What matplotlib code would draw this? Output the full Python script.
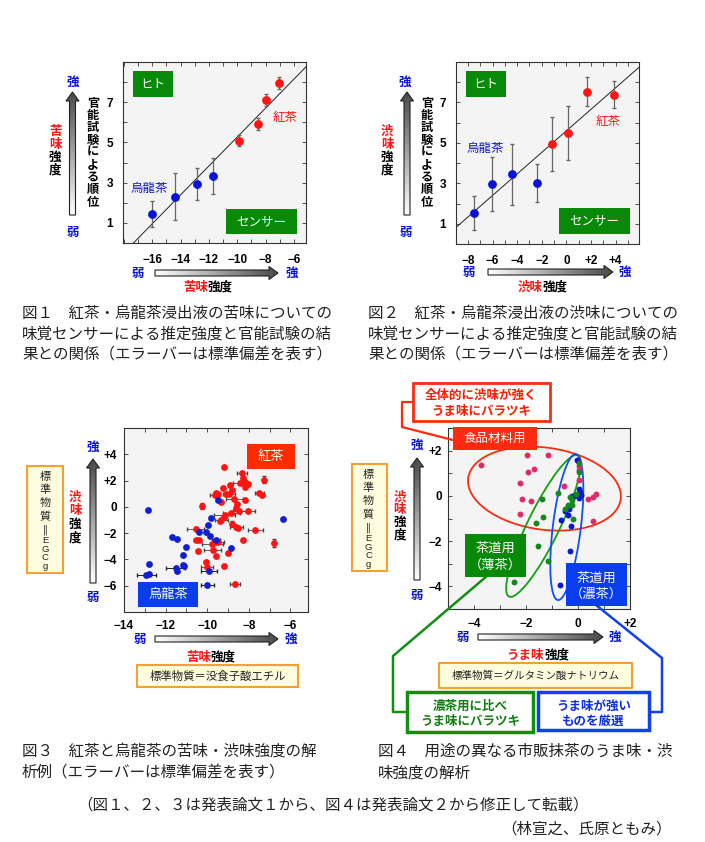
import numpy as np
import matplotlib
matplotlib.use('Agg')
import matplotlib.pyplot as plt
import matplotlib.transforms as mtransforms
from matplotlib.patches import Rectangle, Polygon, Ellipse
from matplotlib.colors import LinearSegmentedColormap

# ---- data: Fig.1 bitterness (sensor vs sensory rank)
bit_oolong_x = [-16.0, -14.42, -12.85, -11.72]
bit_oolong_y = [1.44, 2.31, 2.94, 3.33]
bit_oolong_sd = [0.66, 1.15, 0.78, 0.88]
bit_black_x = [-9.88, -8.52, -8.0, -7.08]
bit_black_y = [5.09, 5.93, 7.10, 7.95]
bit_black_sd = [0.28, 0.30, 0.31, 0.31]

# ---- Fig.2 astringency
ast_oolong_x = [-7.51, -6.03, -4.41, -2.35]
ast_oolong_y = [1.54, 2.95, 3.45, 3.02]
ast_oolong_sd = [0.83, 1.33, 1.50, 0.95]
ast_black_x = [-1.14, 0.11, 1.65, 3.86]
ast_black_y = [4.96, 5.49, 7.54, 7.39]
ast_black_sd = [1.34, 1.32, 0.70, 0.65]

# ---- Fig.3 bitterness vs astringency
f3_black_x = [-9.21, -8.33, -8.28, -7.25, -8.44, -8.16, -8.20, -8.04, -8.92, -7.49,
              -7.37, -9.24, -8.82, -9.56, -9.64, -9.48, -9.08, -8.96, -9.32, -8.69,
              -8.17, -8.57, -10.27, -8.60, -8.84, -9.16, -9.21, -8.45, -8.05, -9.32,
              -9.37, -8.80, -8.60, -8.52, -7.68, -10.56, -10.53, -10.41, -9.76, -9.64,
              -9.47, -8.28, -6.77, -10.46, -9.73, -8.98, -9.57, -10.08, -10.00, -9.21,
              -8.66]
f3_black_y = [3.03, 2.60, 2.17, 2.07, 1.84, 1.89, 1.51, 1.71, 1.63, 1.07,
              0.90, 1.43, 1.30, 1.07, 0.87, 0.95, 1.00, 0.95, 0.36, 0.56,
              0.54, 0.18, 0.08, -0.07, -0.48, -0.61, -0.78, -0.33, -0.33, -0.99,
              -1.11, -1.29, -1.50, -1.60, -1.75, -1.70, -2.51, -2.53, -2.82, -2.64,
              -2.69, -2.51, -2.77, -3.38, -3.28, -3.48, -3.71, -4.19, -4.60, -4.47,
              -5.85]
f3_black_xerr = [0, 0.25, 0, 0, 0.3, 0, 0, 0, 0, 0.2,
                 0, 0, 0, 0, 0.2, 0, 0, 0.3, 0, 0.4,
                 0, 0, 0, 0, 0.4, 0.5, 0, 0.3, 0.35, 0.3,
                 0, 0, 0.3, 0, 0.35, 0.4, 0, 0, 0.5, 0,
                 0.3, 0, 0, 0, 0.4, 0, 0, 0, 0.3, 0,
                 0.25]
f3_black_yerr = [0, 0, 0, 0.25, 0, 0, 0, 0, 0, 0,
                 0, 0, 0, 0, 0, 0, 0, 0, 0, 0,
                 0, 0, 0.25, 0, 0, 0, 0, 0, 0, 0,
                 0, 0.2, 0, 0, 0, 0, 0, 0, 0, 0,
                 0, 0, 0.3, 0, 0, 0, 0, 0, 0, 0,
                 0]
f3_oolong_x = [-12.85, -6.34, -11.69, -11.45, -12.81, -12.93, -12.80, -11.00, -11.17, -11.52,
               -11.45, -11.17, -11.11, -9.99, -9.92, -9.80, -9.96, -10.08, -10.37, -9.85,
               -9.56, -8.86, -9.50]
f3_oolong_y = [-0.27, -0.96, -2.31, -2.41, -4.37, -5.16, -5.08, -3.07, -3.63, -4.65,
               -4.86, -4.40, -4.52, -5.95, -4.91, -0.86, -1.39, -1.90, -1.95, -2.23,
               -2.51, -3.10, 0.49]
f3_oolong_xerr = [0, 0, 0, 0, 0, 0.45, 0, 0, 0, 0.45,
                  0, 0, 0, 0.3, 0.4, 0, 0, 0, 0, 0,
                  0.2, 0, 0]

# ---- Fig.4 umami vs astringency of matcha
food_x = [-3.72, -1.97, -1.17, -1.71, -1.92, -2.23, -2.15, -1.81, -2.23, 0.03,
          0.04, 0.05, -0.53, 0.40, 0.57, 0.71, 0.57, 0.0]
food_y = [1.35, 1.82, 1.82, 1.20, 1.05, 0.57, -0.12, -0.22, -0.78, 1.30,
          1.13, 0.72, 0.44, -0.16, -0.05, 0.07, -1.10, 1.52]
usucha_x = [-1.39, -0.78, -1.36, -1.61, -0.22, -0.37, -0.50, -0.25, -0.21, -0.08,
            -0.30, -1.52, -1.14, -2.48, 0.04, 0.02]
usucha_y = [-0.16, 0.14, -0.95, -1.22, -0.18, -0.41, -0.60, -0.40, -1.00, 0.10,
            -0.05, -2.20, -2.90, -3.82, 1.05, 1.45]
koicha_x = [-0.04, 0.05, 0.09, -0.23, 0.03, -0.33, -0.50, -0.40, -0.66, -0.27,
            -0.32, -0.69, -0.15, 0.10]
koicha_y = [1.57, 0.32, 0.17, -0.02, -0.08, -0.60, -0.66, -0.85, -1.07, -1.33,
            -2.43, -3.92, 0.00, 0.05]

RED = '#ff1414'
BLUE = '#0a14d8'
GREEN = '#088a08'
JP = ['Noto Sans CJK JP', 'DejaVu Sans']

W, H = 705, 842
fig = plt.figure(figsize=(W / 100, H / 100), dpi=100)


def add_ax(x0, y0, x1, y1):
    ax = fig.add_axes([x0 / W, 1 - y1 / H, (x1 - x0) / W, (y1 - y0) / H])
    ax.set_facecolor('#f4f4f4')
    for s in ax.spines.values():
        s.set_color('#333333')
        s.set_linewidth(0.8)
    ax.tick_params(which='both', direction='in', top=True, right=True,
                   length=3, width=0.6, color='#333333')
    return ax


def lab(v, plus):
    if v == 0:
        return '0'
    if v < 0:
        return '\u2212%d' % -v
    return ('+%d' if plus else '%d') % v


def set_ticks(ax, xmaj, xmin_, ymaj, ymin_, xplus, yplus, xpad, ypad, size=8.5):
    ax.set_xticks(xmaj, [lab(v, xplus) for v in xmaj])
    ax.set_xticks(xmin_, minor=True)
    ax.set_yticks(ymaj, [lab(v, yplus) for v in ymaj])
    ax.set_yticks(ymin_, minor=True)
    for t in ax.get_xticklabels() + ax.get_yticklabels():
        t.set_fontfamily('Liberation Sans')
        t.set_fontweight('bold')
        t.set_fontsize(size)
    ax.tick_params(axis='x', which='major', pad=xpad)
    ax.tick_params(axis='y', which='major', pad=ypad)


def fit_line(ax, xs, ys, xlim):
    k, b = np.polyfit(xs, ys, 1)
    xx = np.array(xlim)
    ax.plot(xx, k * xx + b, color='#222222', lw=0.7, zorder=1)


# ---------------- Fig.1
ax1 = add_ax(123, 62, 306, 243)
fit_line(ax1, bit_oolong_x + bit_black_x, bit_oolong_y + bit_black_y, (-18.1, -5.1))
ax1.errorbar(bit_oolong_x, bit_oolong_y, yerr=bit_oolong_sd, fmt='o', color=BLUE,
             ms=5.3, ecolor='#666666', elinewidth=0.9, capsize=1.5, zorder=3)
ax1.errorbar(bit_black_x, bit_black_y, yerr=bit_black_sd, fmt='o', color=RED,
             ms=5.3, ecolor='#666666', elinewidth=0.9, capsize=1.5, zorder=3)
ax1.set_xlim(-18.07, -5.15)
ax1.set_ylim(0, 9)
set_ticks(ax1, list(range(-16, -5, 2)), list(range(-18, -5)), [1, 3, 5, 7], [2, 4, 6, 8],
          False, False, 8, 7)

# ---------------- Fig.2
ax2 = add_ax(456, 62, 639, 244)
fit_line(ax2, ast_oolong_x + ast_black_x, ast_oolong_y + ast_black_y, (-9, 6))
ax2.errorbar(ast_oolong_x, ast_oolong_y, yerr=ast_oolong_sd, fmt='o', color=BLUE,
             ms=5.3, ecolor='#666666', elinewidth=0.9, capsize=1.5, zorder=3)
ax2.errorbar(ast_black_x, ast_black_y, yerr=ast_black_sd, fmt='o', color=RED,
             ms=5.3, ecolor='#666666', elinewidth=0.9, capsize=1.5, zorder=3)
ax2.set_xlim(-8.97, 5.9)
ax2.set_ylim(0, 9)
set_ticks(ax2, list(range(-8, 5, 2)), list(range(-8, 6)), [1, 3, 5, 7], [2, 4, 6, 8],
          True, False, 8, 7)

# ---------------- Fig.3
ax3 = add_ax(124, 428, 308, 612)
ax3.errorbar(f3_black_x, f3_black_y, xerr=f3_black_xerr, yerr=f3_black_yerr, fmt='none',
             ecolor='#444444', elinewidth=0.6, capsize=1.2, zorder=2)
ax3.errorbar(f3_oolong_x, f3_oolong_y, xerr=f3_oolong_xerr, fmt='none',
             ecolor='#222222', elinewidth=0.7, capsize=1.2, zorder=2)
ax3.scatter(f3_black_x, f3_black_y, s=24, color=RED, lw=0, zorder=3)
ax3.scatter(f3_oolong_x, f3_oolong_y, s=24, color='#1020d0', lw=0, zorder=4)
ax3.set_xlim(-14, -5.15)
ax3.set_ylim(-8, 6)
set_ticks(ax3, list(range(-14, -5, 2)), list(range(-14, -5)), list(range(-6, 5, 2)), [],
          True, True, 6, 5)

# ---------------- Fig.4
ax4 = add_ax(448, 428, 630, 609)


def ell(ax, cx, cy, w_px, h_px, ang, color):
    tr = fig.dpi_scale_trans + mtransforms.ScaledTranslation(cx, cy, ax.transData)
    ax.add_patch(Ellipse((0, 0), w_px / 100, h_px / 100, angle=ang, fc='none', ec=color,
                         lw=1.3, transform=tr, clip_on=False, zorder=1))


ax4.scatter(food_x, food_y, s=18, color='#e02a68', lw=0, zorder=3)
ax4.scatter(koicha_x, koicha_y, s=18, color='#0a18d0', lw=0, zorder=3)
ax4.scatter(usucha_x, usucha_y, s=18, color='#14881a', lw=0, zorder=4)
ax4.set_xlim(-5, 2)
ax4.set_ylim(-5, 3)
set_ticks(ax4, [-4, -2, 0, 2], list(range(-5, 3)), [-4, -2, 0, 2], list(range(-5, 4)),
          True, True, 6.5, 4.5)
ell(ax4, -1.29, 0.32, 154, 82, -8, '#ff2a10')
ell(ax4, -1.33, -1.33, 157, 32, 64, '#10a010')
ell(ax4, -0.43, -1.38, 147, 28, 83, '#1050f0')

# ---------------- overlay canvas in pixel coordinates
cv = fig.add_axes([0, 0, 1, 1], zorder=10)
cv.axis('off')
cv.patch.set_alpha(0)
gray_cmap = LinearSegmentedColormap.from_list('arr', ['#ffffff', '#4a4a4a'])


def grad_arrow(x0, y0, x1, y1, shaft=6, head_w=13, head_l=9):
    d = np.array([x1 - x0, y1 - y0], float)
    L = np.hypot(*d)
    u = d / L
    n = np.array([-u[1], u[0]])
    p0 = np.array([x0, y0], float)
    neck = p0 + u * (L - head_l)
    pts = [p0 + n * shaft / 2, neck + n * shaft / 2, neck + n * head_w / 2,
           np.array([x1, y1], float), neck - n * head_w / 2, neck - n * shaft / 2,
           p0 - n * shaft / 2]
    poly = Polygon(pts, closed=True, fc='none', ec='#222222', lw=0.8, zorder=3)
    cv.add_patch(poly)
    xs = [p[0] for p in pts]
    ys = [p[1] for p in pts]
    gx = np.linspace(min(xs), max(xs), 64)
    gy = np.linspace(min(ys), max(ys), 64)
    GX, GY = np.meshgrid(gx, gy)
    t = ((GX - x0) * u[0] + (GY - y0) * u[1]) / L
    im = cv.imshow(t, extent=(gx[0], gx[-1], gy[-1], gy[0]), origin='upper',
                   cmap=gray_cmap, vmin=0, vmax=1, zorder=2, interpolation='bilinear')
    im.set_clip_path(poly)


def jt(x, y, s, size=9, color='black', weight='normal', ha='center', va='center'):
    cv.text(x, y, s, fontsize=size, color=color, fontweight=weight, family=JP,
            ha=ha, va=va, zorder=5)


def vtext(x, y0, step, pieces, size=9, weight='bold'):
    i = 0
    for s, c in pieces:
        for ch in s:
            jt(x, y0 + i * step, ch, size, c, weight)
            i += 1


def htext(xc, y, pieces, size=9, weight='bold'):
    w = size * 100 / 72
    n = sum(len(s) for s, _ in pieces)
    x = xc - n * w / 2
    for s, c in pieces:
        jt(x + len(s) * w / 2, y, s, size, c, weight)
        x += len(s) * w


def rbox(x0, y0, x1, y1, fc, ec=None, lw=0):
    cv.add_patch(Rectangle((x0, y0), x1 - x0, y1 - y0, fc=fc, ec=ec if ec else fc,
                           lw=lw, zorder=1))


def egcg_label(xc, y0):
    # vertical "標準物質＝EGCg"
    for i, ch in enumerate(['標', '準', '物', '質']):
        jt(xc, y0 + 13.2 * i, ch, 8, '#222222')
    cv.text(xc, y0 + 52.5, '\u2016', fontsize=7, color='#222222', family='DejaVu Sans',
            ha='center', va='center', zorder=5)
    for i, ch in enumerate(['E', 'G', 'C', 'g']):
        cv.text(xc, y0 + 63.5 + 8.7 * i, ch, fontsize=6.8, color='#222222',
                family='Liberation Sans', ha='center', va='center', zorder=5)


# Fig.1 annotations
rbox(133, 71, 173, 97, GREEN)
jt(153, 84, 'ヒト', 9, 'white')
rbox(226, 209, 297, 234, GREEN)
jt(261.5, 221.5, 'センサー', 9, 'white')
jt(285, 117, '紅茶', 9, RED)
jt(149, 188, '烏龍茶', 9, BLUE)
jt(73, 82, '強', 9, BLUE, 'bold')
jt(73, 232, '弱', 9, BLUE, 'bold')
grad_arrow(72.5, 215, 72.5, 92)
vtext(93, 103, 12.4, [('官能試験による順位', 'black')], 8.8)
vtext(55, 131.5, 12.8, [('苦味', RED), ('強度', 'black')])
jt(138, 273, '弱', 9, BLUE, 'bold')
jt(292, 273, '強', 9, BLUE, 'bold')
grad_arrow(155, 273, 278, 273)
htext(208, 287, [('苦味', RED), ('強度', 'black')])

# Fig.2 annotations
rbox(466, 71, 506, 97, GREEN)
jt(486, 84, 'ヒト', 9, 'white')
rbox(559, 208, 630, 234, GREEN)
jt(594.5, 221, 'センサー', 9, 'white')
jt(608, 122, '紅茶', 9, RED)
jt(485, 148, '烏龍茶', 9, BLUE)
jt(405, 82, '強', 9, BLUE, 'bold')
jt(406, 232, '弱', 9, BLUE, 'bold')
grad_arrow(407, 215, 407, 92)
vtext(427, 103, 12.4, [('官能試験による順位', 'black')], 8.8)
vtext(387, 131.5, 12.8, [('渋味', RED), ('強度', 'black')])
jt(469, 272, '弱', 9, BLUE, 'bold')
jt(625, 272, '強', 9, BLUE, 'bold')
grad_arrow(488, 272, 613, 272)
htext(543, 287, [('渋味', RED), ('強度', 'black')])

# Fig.3 annotations
rbox(247, 444, 295, 469, '#ff2a00')
jt(271, 456.5, '紅茶', 9.5, 'white')
rbox(138, 582, 198, 607, '#0a3cf0')
jt(168, 594.5, '烏龍茶', 9.5, 'white')
jt(93, 447, '強', 9, BLUE, 'bold')
jt(93, 597, '弱', 9, BLUE, 'bold')
grad_arrow(93, 583, 93, 459)
vtext(75, 497, 13.8, [('渋味', RED), ('強度', 'black')])
rbox(27, 466, 63, 573, '#fffde0', '#f5a030', 1.5)
egcg_label(45, 477)
jt(140, 639, '弱', 9, BLUE, 'bold')
jt(291, 639, '強', 9, BLUE, 'bold')
grad_arrow(155, 639, 278, 639)
htext(211, 657, [('苦味', RED), ('強度', 'black')])
rbox(137, 665, 298, 687, '#ffffe0', '#f5a030', 1.5)
jt(217.5, 676, '標準物質＝没食子酸エチル', 8.2, '#222222')

# Fig.4 annotations
cv.plot([413, 402, 402, 453], [402, 402, 427, 440], color='#ff2a10', lw=1.6, zorder=1)
rbox(413, 383, 550, 421, 'white', '#ff2a10', 2)
jt(481.5, 395, '全体的に渋味が強く', 9, '#ff1a00', 'bold')
jt(481.5, 411, 'うま味にバラツキ', 9, '#ff1a00', 'bold')
rbox(453, 427, 537, 450, '#ff2a10')
jt(495, 438.5, '食品材料用', 9, 'white')
cv.plot([487, 393, 393, 407], [576, 656, 712, 712], color='#109010', lw=1.8, zorder=1)
cv.plot([596, 662, 662, 649], [605, 658, 712, 712], color='#1040f0', lw=1.8, zorder=1)
rbox(465, 534, 526, 577, GREEN)
jt(495.5, 548, '茶道用', 9.5, 'white')
jt(495.5, 565, '（薄茶）', 9.5, 'white')
rbox(566, 563, 627, 606, '#0a3cf0')
jt(596.5, 578, '茶道用', 9.5, 'white')
jt(596.5, 594.5, '（濃茶）', 9.5, 'white')
rbox(352, 464, 387, 571, '#fffde0', '#f5a030', 1.5)
egcg_label(368.5, 475)
jt(417, 445, '強', 9, BLUE, 'bold')
jt(417, 595, '弱', 9, BLUE, 'bold')
grad_arrow(417, 580, 417, 458)
vtext(400, 497, 12.8, [('渋味', RED), ('強度', 'black')])
jt(463, 637, '弱', 9, BLUE, 'bold')
jt(615, 637, '強', 9, BLUE, 'bold')
grad_arrow(478, 637, 603, 637)
htext(538, 655, [('うま味', RED), ('強度', 'black')])
rbox(439, 663, 632, 688, '#ffffe0', '#f5a030', 1.5)
jt(535.5, 676, '標準物質＝グルタミン酸ナトリウム', 7.6, '#222222')
rbox(407, 692, 533, 732, 'white', '#109010', 2.5)
jt(470, 706, '濃茶用に比べ', 9, '#108010', 'bold')
jt(470, 721.5, 'うま味にバラツキ', 9, '#108010', 'bold')
rbox(538, 692, 649, 730, 'white', '#1040f0', 2.5)
jt(593.5, 706, 'うま味が強い', 9, '#1030e0', 'bold')
jt(593.5, 721.5, 'ものを厳選', 9, '#1030e0', 'bold')

# captions
CAP = 11.2
cap1 = ['図１　紅茶・烏龍茶浸出液の苦味についての',
        '味覚センサーによる推定強度と官能試験の結',
        '果との関係（エラーバーは標準偏差を表す）']
cap2 = ['図２　紅茶・烏龍茶浸出液の渋味についての',
        '味覚センサーによる推定強度と官能試験の結',
        '果との関係（エラーバーは標準偏差を表す）']
cap3 = ['図３　紅茶と烏龍茶の苦味・渋味強度の解',
        '析例（エラーバーは標準偏差を表す）']
cap4 = ['図４　用途の異なる市販抹茶のうま味・渋',
        '味強度の解析']
for i, s in enumerate(cap1):
    jt(22, 313 + 21 * i, s, CAP, '#222222', ha='left')
for i, s in enumerate(cap2):
    jt(368, 313 + 21 * i, s, CAP, '#222222', ha='left')
for i, s in enumerate(cap3):
    jt(22, 751 + 22 * i, s, CAP, '#222222', ha='left')
for i, s in enumerate(cap4):
    jt(378, 751 + 22 * i, s, CAP, '#222222', ha='left')
jt(77, 805, '（図１、２、３は発表論文１から、図４は発表論文２から修正して転載）', CAP,
   '#222222', ha='left')
jt(672, 829, '（林宣之、氏原ともみ）', CAP, '#222222', ha='right')

cv.set_aspect('auto')
cv.set_xlim(0, W)
cv.set_ylim(H, 0)

fig.savefig('out.png', dpi=100)
